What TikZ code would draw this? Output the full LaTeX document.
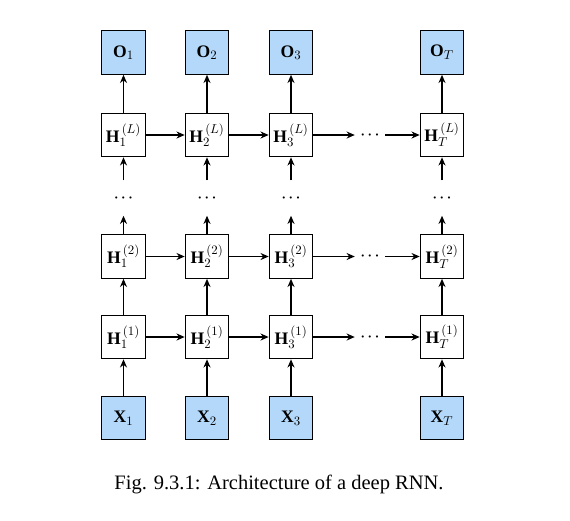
\documentclass[tikz,border=0pt]{standalone}
\usepackage{fontspec}
\setmainfont{Liberation Serif}
\usetikzlibrary{arrows.meta}
\definecolor{cellblue}{RGB}{179,216,250}
\tikzset{
  cell/.style={draw, line width=1.1pt, minimum size=1.3cm, inner sep=0pt,
    font=\fontsize{15}{17}\selectfont},
  iocell/.style={cell, fill=cellblue},
  vdots/.style={minimum height=1.05cm, minimum width=0.6cm, inner sep=0pt,
    font=\fontsize{12}{14}\selectfont\boldmath},
  hdots/.style={minimum width=0.9cm, minimum height=0.6cm, inner sep=0pt,
    font=\fontsize{12}{14}\selectfont\boldmath},
  link/.style={line width=1.1pt, -{Stealth[length=7pt,width=6pt]}}
}
\begin{document}
\begin{tikzpicture}[x=0.03cm, y=-0.03cm]
\useasboundingbox (0,0) rectangle (570,520);

% Spalten
\foreach \c/\x in {1/123.5, 2/207, 3/291, T/442} {
	\node[iocell] (O\c) at (\x,52.5) {$\mathbf{O}_{\c}$};
	\node[cell] (HL\c) at (\x,135) {$\mathbf{H}_{\c}^{\,(L)}$};
	\node[vdots] (D\c) at (\x,198) {$\cdots$};
	\node[cell] (HB\c) at (\x,256.5) {$\mathbf{H}_{\c}^{\,(2)}$};
	\node[cell] (HA\c) at (\x,337) {$\mathbf{H}_{\c}^{\,(1)}$};
	\node[iocell] (X\c) at (\x,418) {$\mathbf{X}_{\c}$};

	\draw[link] (X\c) -- (HA\c);
	\draw[link] (HA\c) -- (HB\c);
	\draw[link] (HB\c) -- (D\c);
	\draw[link] (D\c) -- (HL\c);
	\draw[link] (HL\c) -- (O\c);
}

% Zeilen
\foreach \r/\y in {HL/135, HB/256.5, HA/337} {
	\draw[link] (\r1) -- (\r2);
	\draw[link] (\r2) -- (\r3);
	\node[hdots] (\r D) at (370,\y) {$\cdots$};
	\draw[link] (\r3) -- (\r D);
	\draw[link] (\r D) -- (\r T);
}

\node[font=\fontsize{17.5}{20}\selectfont] (cap) at (279,484) {Fig. 9.3.1: Architecture of a deep RNN.};
\end{tikzpicture}
\end{document}
